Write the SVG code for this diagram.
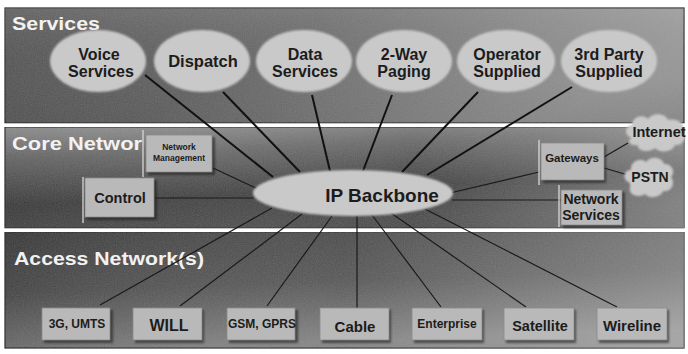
<svg xmlns="http://www.w3.org/2000/svg" width="688" height="354" viewBox="0 0 688 354">
<defs>
<linearGradient id="gSvc" x1="0" y1="0" x2="1" y2="0.3">
<stop offset="0" stop-color="#4e4e4e"/><stop offset="0.45" stop-color="#666"/><stop offset="0.8" stop-color="#8a8a8a"/><stop offset="1" stop-color="#9c9c9c"/>
</linearGradient>
<linearGradient id="gSvcV" x1="0" y1="0" x2="0" y2="1">
<stop offset="0" stop-color="#fff" stop-opacity="0.12"/><stop offset="0.6" stop-color="#000" stop-opacity="0.05"/><stop offset="1" stop-color="#000" stop-opacity="0.15"/>
</linearGradient>
<linearGradient id="gCore" x1="0" y1="0" x2="0.35" y2="1">
<stop offset="0" stop-color="#9a9a9a"/><stop offset="0.3" stop-color="#6a6a6a"/><stop offset="0.7" stop-color="#3e3e3e"/><stop offset="1" stop-color="#4a4a4a"/>
</linearGradient>
<linearGradient id="gCoreH" x1="0" y1="0" x2="1" y2="0">
<stop offset="0" stop-color="#000" stop-opacity="0.1"/><stop offset="0.6" stop-color="#fff" stop-opacity="0"/><stop offset="1" stop-color="#fff" stop-opacity="0.3"/>
</linearGradient>
<linearGradient id="gAcc" x1="0" y1="0" x2="0.2" y2="1">
<stop offset="0" stop-color="#3e3e3e"/><stop offset="0.5" stop-color="#4e4e4e"/><stop offset="1" stop-color="#7e7e7e"/>
</linearGradient>
<linearGradient id="gAccH" x1="0" y1="0" x2="1" y2="0">
<stop offset="0" stop-color="#000" stop-opacity="0.15"/><stop offset="0.5" stop-color="#fff" stop-opacity="0.05"/><stop offset="1" stop-color="#fff" stop-opacity="0.3"/>
</linearGradient>
<filter id="soft" x="-10%" y="-10%" width="120%" height="120%"><feGaussianBlur stdDeviation="1"/></filter>
<filter id="shadow" x="-10%" y="-10%" width="130%" height="130%"><feGaussianBlur stdDeviation="1.2"/></filter>
<filter id="grain" x="0" y="0" width="100%" height="100%">
<feTurbulence type="fractalNoise" baseFrequency="0.9" numOctaves="2" seed="3" result="n"/>
<feColorMatrix type="matrix" values="0 0 0 0 0.5  0 0 0 0 0.5  0 0 0 0 0.5  0.5 0.5 0 0 -0.2" in="n"/>
</filter>
<style>
.band{stroke:#2a2a2a;stroke-width:1.2}
.title{font-family:"Liberation Sans",Arial,sans-serif;font-weight:bold;fill:#f2f2f2}
.lbl{font-family:"Liberation Sans",Arial,sans-serif;font-weight:bold;fill:#1c1c1c;text-anchor:middle}
.ell{fill:#c9c9c9;filter:url(#soft)}
.box{fill:#b9b9b9;stroke:#8a8a8a;stroke-width:0.8}
.shd{fill:#1a1a1a;opacity:0.6;filter:url(#shadow)}
.edge{stroke:#d8d8d8;stroke-width:1.3}
.c1{stroke:#111;stroke-width:2;fill:none}
.c2{stroke:#1a1a1a;stroke-width:1.2;fill:none}
.cloud{fill:#c9c9c9;filter:url(#soft)}
</style>
</defs>
<rect width="688" height="354" fill="#fff"/>
<g id="bands">
<rect class="band" x="5" y="8" width="679" height="115" fill="url(#gSvc)"/>
<rect x="5" y="8" width="679" height="115" fill="url(#gSvcV)"/>
<rect class="band" x="5" y="127" width="679" height="101" fill="url(#gCore)"/>
<rect x="5" y="127" width="679" height="101" fill="url(#gCoreH)"/>
<rect class="band" x="5" y="232" width="679" height="116" fill="url(#gAcc)"/>
<rect x="5" y="232" width="679" height="116" fill="url(#gAccH)"/>
<rect x="5" y="8" width="679" height="340" filter="url(#grain)" opacity="0.35"/>
<rect x="0" y="123.5" width="688" height="3.5" fill="#fff"/>
<rect x="0" y="228.5" width="688" height="3.5" fill="#fff"/>
<text class="title" x="12" y="30" font-size="19" textLength="88" lengthAdjust="spacingAndGlyphs">Services</text>
<text class="title" x="12" y="150" font-size="19" textLength="130" lengthAdjust="spacingAndGlyphs">Core Networ</text>
<text class="title" x="14" y="265" font-size="19" textLength="190" lengthAdjust="spacingAndGlyphs">Access Network(s)</text>
</g>
<g id="connectors">
<line class="c1" x1="145" y1="75" x2="273" y2="177"/>
<line class="c1" x1="223" y1="92" x2="300" y2="172"/>
<line class="c1" x1="312" y1="95" x2="330" y2="171"/>
<line class="c1" x1="392" y1="95" x2="363" y2="171"/>
<line class="c1" x1="478" y1="92" x2="402" y2="172"/>
<line class="c1" x1="572" y1="87" x2="427" y2="175"/>
<line class="c2" x1="213" y1="168" x2="262" y2="191"/>
<line class="c2" x1="155" y1="198" x2="254" y2="198"/>
<line class="c2" x1="450" y1="193" x2="539" y2="172"/>
<line class="c2" x1="452" y1="200" x2="561" y2="200"/>
<line class="c2" x1="604" y1="157" x2="628" y2="143"/>
<line class="c2" x1="604" y1="168" x2="628" y2="175"/>
<line class="c2" x1="272" y1="208" x2="100" y2="305"/>
<line class="c2" x1="302" y1="214" x2="180" y2="306"/>
<line class="c2" x1="332" y1="216" x2="267" y2="306"/>
<line class="c2" x1="357" y1="216" x2="357" y2="308"/>
<line class="c2" x1="372" y1="215" x2="441" y2="307"/>
<line class="c2" x1="391" y1="213" x2="526" y2="307"/>
<line class="c2" x1="425" y1="209" x2="617" y2="307"/>
</g>
<g id="voice"><ellipse class="ell" cx="98" cy="61" rx="48" ry="31"/><text class="lbl" x="99" y="60" font-size="16">Voice</text><text class="lbl" x="101" y="77" font-size="16">Services</text></g>
<g id="dispatch"><ellipse class="ell" cx="202" cy="61" rx="48" ry="31"/><text class="lbl" x="203" y="67" font-size="16.5">Dispatch</text></g>
<g id="data"><ellipse class="ell" cx="304" cy="61" rx="48" ry="31"/><text class="lbl" x="305" y="60" font-size="16">Data</text><text class="lbl" x="305" y="77" font-size="16">Services</text></g>
<g id="paging"><ellipse class="ell" cx="404" cy="61" rx="48" ry="31"/><text class="lbl" x="404" y="60" font-size="16">2-Way</text><text class="lbl" x="404" y="77" font-size="16">Paging</text></g>
<g id="operator"><ellipse class="ell" cx="506" cy="61" rx="49" ry="31"/><text class="lbl" x="507" y="60" font-size="16">Operator</text><text class="lbl" x="507" y="77" font-size="16">Supplied</text></g>
<g id="thirdparty"><ellipse class="ell" cx="609" cy="61" rx="48" ry="31"/><text class="lbl" x="609" y="60" font-size="16">3rd Party</text><text class="lbl" x="609" y="77" font-size="16">Supplied</text></g>
<g id="netmgmt"><rect class="shd" x="148" y="137" width="67" height="38"/><rect class="box" x="146" y="135" width="66" height="37"/><line class="edge" x1="143" y1="130" x2="143" y2="177"/><text class="lbl" x="179" y="150" font-size="8.5">Network</text><text class="lbl" x="179" y="161" font-size="8.5">Management</text></g>
<g id="control"><rect class="shd" x="87" y="180" width="70" height="40"/><rect class="box" x="85" y="178" width="69" height="39"/><line class="edge" x1="83" y1="177" x2="83" y2="223"/><text class="lbl" x="120" y="203" font-size="14.5">Control</text></g>
<g id="backbone"><ellipse class="ell" cx="353" cy="193" rx="100" ry="23"/><text class="lbl" x="382" y="202" font-size="19">IP Backbone</text></g>
<g id="gateways"><rect class="shd" x="543" y="145" width="63" height="38"/><rect class="box" x="541" y="143" width="63" height="37"/><line class="edge" x1="539" y1="140" x2="539" y2="185"/><text class="lbl" x="572" y="162" font-size="11.5">Gateways</text></g>
<g id="internet"><path class="cloud" d="M632,138 C624,136 624,126 632,125 C632,116 644,114 648,119 C652,112 666,113 668,120 C678,118 686,124 682,131 C688,136 684,146 675,145 C672,153 659,153 655,148 C648,154 636,150 638,145 C630,147 626,140 632,138 Z"/><text class="lbl" x="659" y="137" font-size="14.5">Internet</text></g>
<g id="pstn"><path class="cloud" d="M630,183 C622,180 623,170 631,170 C630,161 641,157 646,162 C650,155 663,157 664,164 C672,163 676,172 671,177 C676,183 671,193 663,191 C661,198 648,199 645,194 C638,199 628,194 630,188 Z"/><text class="lbl" x="650" y="182" font-size="14">PSTN</text></g>
<g id="netservices"><rect class="shd" x="563" y="192" width="62" height="36"/><rect class="box" x="561" y="190" width="61" height="35"/><line class="edge" x1="559" y1="185" x2="559" y2="227"/><text class="lbl" x="591" y="204" font-size="14">Network</text><text class="lbl" x="591" y="220" font-size="14">Services</text></g>
<g id="umts"><rect class="shd" x="44" y="310" width="69" height="33"/><rect class="box" x="42" y="308" width="68" height="32"/><text class="lbl" x="77" y="328" font-size="12">3G, UMTS</text></g>
<g id="will"><rect class="shd" x="135" y="310" width="69" height="33"/><rect class="box" x="133" y="308" width="69" height="32"/><text class="lbl" x="169" y="331" font-size="16">WILL</text></g>
<g id="gsm"><rect class="shd" x="229" y="310" width="69" height="33"/><rect class="box" x="227" y="308" width="68" height="32"/><text class="lbl" x="262" y="328" font-size="12">GSM, GPRS</text></g>
<g id="cable"><rect class="shd" x="322" y="310" width="69" height="33"/><rect class="box" x="320" y="308" width="69" height="32"/><text class="lbl" x="355" y="332" font-size="15">Cable</text></g>
<g id="enterprise"><rect class="shd" x="414" y="310" width="70" height="33"/><rect class="box" x="412" y="308" width="70" height="32"/><text class="lbl" x="447" y="328" font-size="12">Enterprise</text></g>
<g id="satellite"><rect class="shd" x="506" y="310" width="70" height="33"/><rect class="box" x="504" y="308" width="70" height="32"/><text class="lbl" x="540" y="331" font-size="14.5">Satellite</text></g>
<g id="wireline"><rect class="shd" x="599" y="310" width="70" height="33"/><rect class="box" x="597" y="308" width="70" height="32"/><text class="lbl" x="632" y="331" font-size="15">Wireline</text></g>
</svg>
